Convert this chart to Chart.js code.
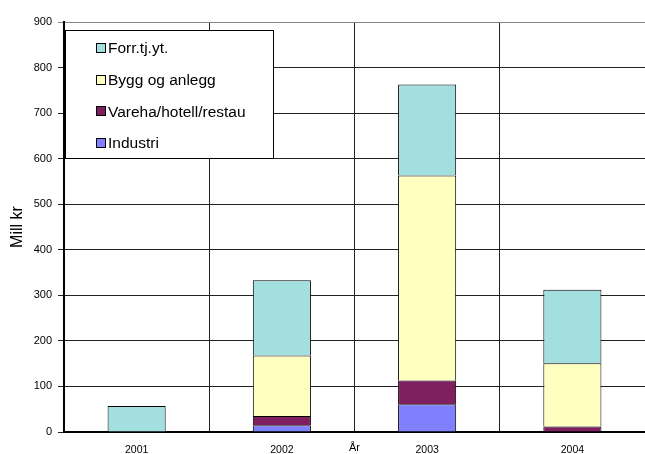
<!DOCTYPE html>
<html><head><meta charset="utf-8">
<script src="https://cdn.jsdelivr.net/npm/chart.js@4"></script>
<style>html,body{margin:0;padding:0;background:#fff;overflow:hidden}#wrap{width:645px;height:454px;position:relative}</style>
</head><body><div id="wrap"><canvas id="c" width="645" height="454"></canvas></div>
<script>
const years = ['2001', '2002', '2003', '2004'];
const industri = [0, 15, 61, 0];
const vareha = [0, 20, 52, 12];
const bygg = [0, 133, 450, 139];
const forr = [57, 165, 200, 161];
const seriesNames = ['Industri', 'Vareha/hotell/restau', 'Bygg og anlegg', 'Forr.tj.yt.'];
const yTitle = 'Mill kr';
const xTitle = 'År';

const FONT = '"Liberation Sans", Arial, sans-serif';

const legendBox = {
  id: 'legendBox',
  afterDraw(chart) {
    const ctx = chart.ctx;
    ctx.save();
    const x0 = 65, y0 = 30, w = 208, h = 128;
    ctx.fillStyle = '#fff';
    ctx.fillRect(x0, y0, w, h);
    ctx.strokeStyle = '#000';
    ctx.lineWidth = 1;
    ctx.strokeRect(x0 + 0.5, y0 + 0.5, w, h);
    const ds = chart.data.datasets.slice().reverse();
    ctx.font = '15.5px ' + FONT;
    ctx.textBaseline = 'middle';
    ctx.textAlign = 'left';
    ds.forEach((d, i) => {
      const cy = 48 + i * 31.7;
      ctx.fillStyle = d.backgroundColor;
      ctx.fillRect(96, Math.round(cy - 5), 10, 10);
      ctx.strokeStyle = '#000';
      ctx.strokeRect(96.5, Math.round(cy - 5) + 0.5, 9, 9);
      ctx.fillStyle = '#000';
      ctx.fillText(d.label, 108, cy + 1);
    });
    ctx.restore();
  }
};

new Chart(document.getElementById('c'), {
  type: 'bar',
  data: {
    labels: years,
    datasets: [
      { label: seriesNames[0], data: industri, backgroundColor: '#8080FF' },
      { label: seriesNames[1], data: vareha, backgroundColor: '#801F5F' },
      { label: seriesNames[2], data: bygg, backgroundColor: '#FFFFC0' },
      { label: seriesNames[3], data: forr, backgroundColor: '#A4DFDF' }
    ].map(d => Object.assign(d, { borderColor: '#000', borderWidth: 1, barPercentage: 0.4, categoryPercentage: 1 }))
  },
  options: {
    responsive: false,
    animation: false,
    layout: { padding: { top: 22, right: 0, left: 0, bottom: 0 } },
    plugins: { legend: { display: false }, tooltip: { enabled: false } },
    scales: {
      x: {
        stacked: true,
        afterFit(s) { s.height = 22; },
        grid: {
          offset: true,
          drawTicks: false,
          color: (c) => c.index === 4 ? 'rgba(0,0,0,0)' : '#222',
          lineWidth: 1
        },
        border: { display: true, color: '#000', width: 2 },
        ticks: { color: '#000', font: { family: FONT, size: 10.5 }, padding: 12 },
        title: { display: true, text: xTitle, color: '#000', font: { family: FONT, size: 11 }, padding: { top: 0, bottom: -1 } }
      },
      y: {
        stacked: true,
        min: 0, max: 900,
        afterFit(s) { s.width = 64; },
        grid: { color: (c) => c.tick && c.tick.value === 900 ? '#888' : '#222', lineWidth: 1, tickLength: 6, drawTicks: true },
        border: { display: true, color: '#000', width: 2 },
        ticks: { stepSize: 100, color: '#000', font: { family: FONT, size: 11 }, padding: 6 },
        title: { display: true, text: yTitle, color: '#000', font: { family: FONT, size: 16 }, padding: { top: 8, bottom: 0 } }
      }
    }
  },
  plugins: [legendBox]
});
</script>
</body></html>
